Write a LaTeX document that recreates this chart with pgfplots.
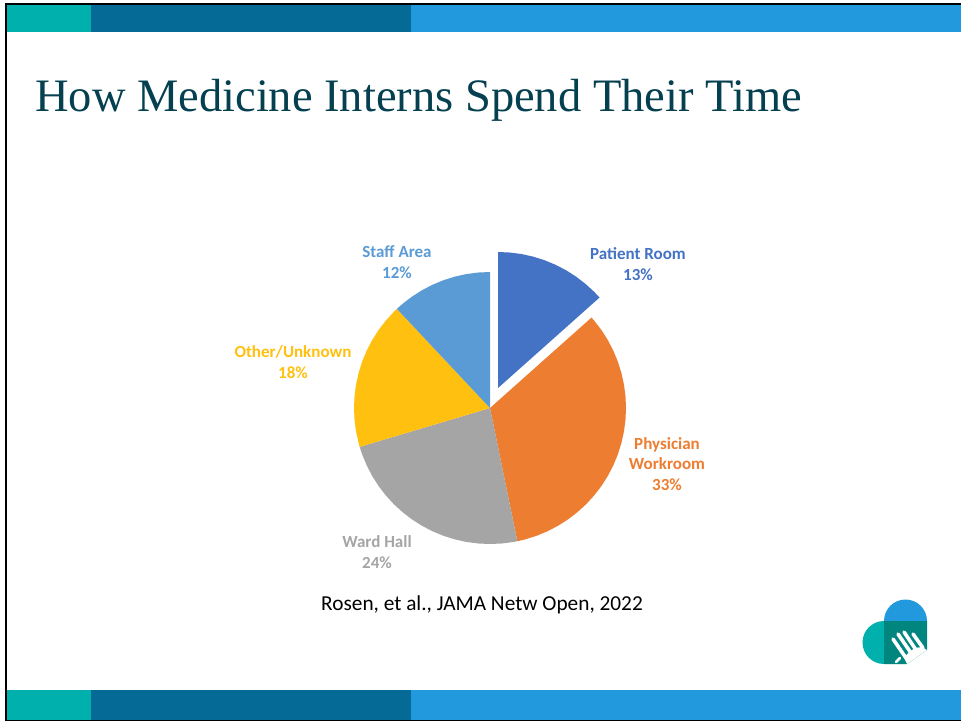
\documentclass[border=0pt]{standalone}
\usepackage{pgfplots}
\pgfplotsset{compat=1.18}
\usepgfplotslibrary{polar}
\usepackage{fontspec}
\setmainfont{Carlito}
\newfontfamily\titlefont{Liberation Serif}
\definecolor{barteal}{HTML}{00B0AC}
\definecolor{bardark}{HTML}{056A96}
\definecolor{barblue}{HTML}{2299DD}
\definecolor{titleink}{HTML}{04404F}
\definecolor{slicepatient}{HTML}{4472C4}
\definecolor{slicework}{HTML}{ED7D31}
\definecolor{sliceward}{HTML}{A5A5A5}
\definecolor{sliceother}{HTML}{FFC010}
\definecolor{slicestaff}{HTML}{5B9BD5}
\definecolor{logodark}{HTML}{00857F}
\pgfplotsset{pieaxis/.style={
  width=280pt, height=280pt, scale only axis,
  xmin=0, xmax=360, ymin=0, ymax=140,
  axis lines=none, clip=false, anchor=center}}
\newcommand{\pielabel}[5]{\node[font=\fontsize{17}{20.5}\selectfont\bfseries, text=#4, align=center] at (#1,#2) {#3\\#5};}
\begin{document}
\begin{tikzpicture}
% slide background and furniture, measured from the top left corner
\begin{scope}[x=1pt,y=-1pt]
  \useasboundingbox (0,0) rectangle (961,721);
  \fill[white] (0,0) rectangle (961,721);
  \fill[black] (4.5,3) rectangle (961,721);
  \fill[white] (7,5) rectangle (961,720);
  \fill[barteal] (7,5) rectangle (91,32);
  \fill[bardark] (91,5) rectangle (411,32);
  \fill[barblue] (411,5) rectangle (961,32);
  \fill[barteal] (7,689.5) rectangle (91,720);
  \fill[bardark] (91,689.5) rectangle (411,720);
  \fill[barblue] (411,689.5) rectangle (961,720);
  \node[anchor=base west, inner sep=0pt, text=titleink, font=\titlefont\fontsize{46.5}{50}\selectfont] at (35,111) {How Medicine Interns Spend Their Time};
  \node[font=\fontsize{21.3}{24}\selectfont, text=black] at (482,605) {Rosen, et al., JAMA Netw Open, 2022};
  \pielabel{638}{264}{Patient Room}{slicepatient}{13\%}
  \pielabel{397}{262}{Staff Area}{slicestaff}{12\%}
  \pielabel{293}{362}{Other/Unknown}{sliceother}{18\%}
  \node[font=\fontsize{17}{20.5}\selectfont\bfseries, text=slicework, align=center] at (667,464) {Physician\\Workroom\\33\%};
  \pielabel{377}{552}{Ward Hall}{sliceward}{24\%}
  % logo: two half discs, a square and a white hand
  \fill[barblue] (884,621) arc[start angle=180, end angle=360, radius=21.5] -- cycle;
  \fill[barteal] (884,664) arc[start angle=90, end angle=270, radius=21.5] -- cycle;
  \fill[logodark] (884,621) -- (927,621) -- (927,650) -- (907,664) -- (884,664) -- cycle;
  \fill[white] (904,658) -- (909,652) -- (915,648) -- (922,647) -- (927,650) -- (907,664) -- cycle;
  \begin{scope}[white, line width=3.6pt, line cap=round]
    \draw (893,639) -- (906,658);
    \draw (898,634) -- (911,653);
    \draw (904,632) -- (916,650);
    \draw (913,634) -- (923,648);
    \draw[line width=2.6pt] (896,662) -- (900,658);
  \end{scope}
\end{scope}
% four slices around the common centre
\begin{polaraxis}[pieaxis, at={(490pt,-408pt)}]
  \addplot[fill=slicework, draw=none] coordinates {(0,0) (41.7,136) (40,136) (35,136) (30,136) (25,136) (20,136) (15,136) (10,136) (5,136) (0,136) (355,136) (350,136) (345,136) (340,136) (335,136) (330,136) (325,136) (320,136) (315,136) (310,136) (305,136) (300,136) (295,136) (290,136) (285,136) (281.6,136)} -- cycle;
  \addplot[fill=sliceward, draw=none] coordinates {(0,0) (281.6,136) (280,136) (275,136) (270,136) (265,136) (260,136) (255,136) (250,136) (245,136) (240,136) (235,136) (230,136) (225,136) (220,136) (215,136) (210,136) (205,136) (200,136) (196.6,136)} -- cycle;
  \addplot[fill=sliceother, draw=none] coordinates {(0,0) (196.6,136) (195,136) (190,136) (185,136) (180,136) (175,136) (170,136) (165,136) (160,136) (155,136) (150,136) (145,136) (140,136) (135,136) (133.2,136)} -- cycle;
  \addplot[fill=slicestaff, draw=none] coordinates {(0,0) (133.2,136) (130,136) (125,136) (120,136) (115,136) (110,136) (105,136) (100,136) (95,136) (90,136)} -- cycle;
\end{polaraxis}
% the pulled-out slice
\begin{polaraxis}[pieaxis, at={(498pt,-388pt)}]
  \addplot[fill=slicepatient, draw=none] coordinates {(0,0) (90,136) (85,136) (80,136) (75,136) (70,136) (65,136) (60,136) (55,136) (50,136) (45,136) (41.7,136)} -- cycle;
\end{polaraxis}
\end{tikzpicture}
\end{document}
